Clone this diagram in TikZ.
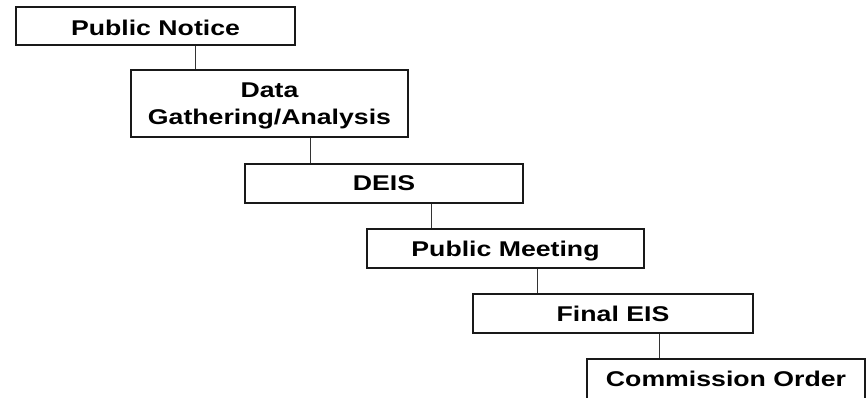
\documentclass[tikz,border=0pt]{standalone}
\usepackage{fontspec}
\setmainfont{Liberation Sans}[FakeStretch=1.25]
\newcommand\lowerby[1]{\rule{0pt}{#1}}
\begin{document}
\begin{tikzpicture}[x=0.75pt,y=-0.75pt,
  stepbox/.style={draw=black!90, line width=1.4pt, inner sep=0pt, align=center, text depth=0pt,
    font=\fontsize{16}{20.3}\selectfont\bfseries},
  link/.style={draw=black!80, line width=0.8pt}]
\useasboundingbox (0,0) rectangle (866,397);
\node[stepbox, minimum width=279*0.75pt, minimum height=38*0.75pt] (a) at (155.5,26) {\lowerby{14.6pt}Public Notice};
\node[stepbox, minimum width=277*0.75pt, minimum height=67*0.75pt] (b) at (269.5,103.5) {Data\\Gathering/Analysis};
\node[stepbox, minimum width=278*0.75pt, minimum height=39*0.75pt] (c) at (384,183.5) {DEIS};
\node[stepbox, minimum width=277*0.75pt, minimum height=39*0.75pt] (d) at (505.5,248.5) {Public Meeting};
\node[stepbox, minimum width=280*0.75pt, minimum height=39*0.75pt] (e) at (613,313.5) {Final EIS};
\node[stepbox, minimum width=278*0.75pt, minimum height=40*0.75pt] (f) at (726,379) {Commission Order};
\coordinate (cb) at ([xshift=65*0.75pt]b.north west);
\coordinate (cc) at ([xshift=66*0.75pt]c.north west);
\coordinate (cd) at ([xshift=65*0.75pt]d.north west);
\coordinate (ce) at ([xshift=65*0.75pt]e.north west);
\coordinate (cf) at ([xshift=73*0.75pt]f.north west);
\draw[link] (cb |- a.south) -- (cb);
\draw[link] (cc |- b.south) -- (cc);
\draw[link] (cd |- c.south) -- (cd);
\draw[link] (ce |- d.south) -- (ce);
\draw[link] (cf |- e.south) -- (cf);
\end{tikzpicture}
\end{document}
